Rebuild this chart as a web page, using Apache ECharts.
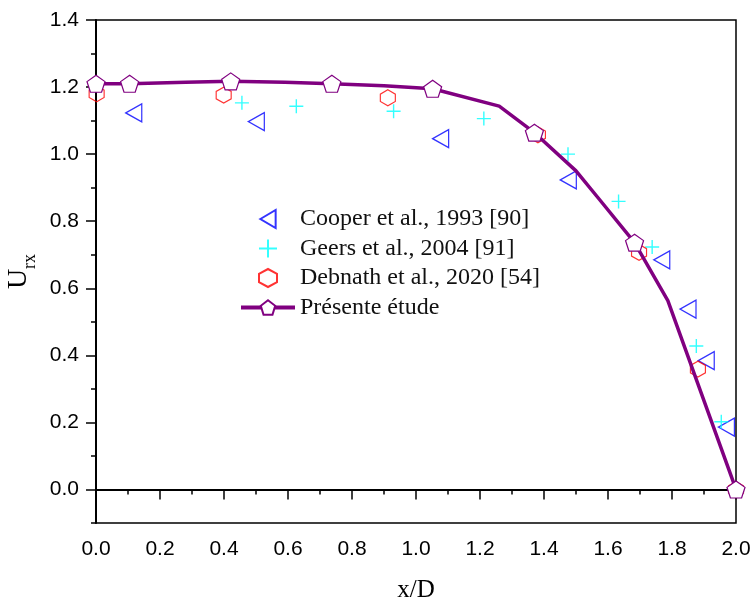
<!DOCTYPE html>
<html>
<head>
<meta charset="utf-8">
<script src="https://cdn.jsdelivr.net/npm/echarts@6/dist/echarts.min.js"></script>
<style>
  html, body { margin: 0; padding: 0; background: #fff; }
  #chart { width: 753px; height: 601px; }
</style>
</head>
<body>
<div id="chart"></div>
<script>
// tick labels
const xTicks = [0.0, 0.2, 0.4, 0.6, 0.8, 1.0, 1.2, 1.4, 1.6, 1.8, 2.0];
const yTicks = [0.0, 0.2, 0.4, 0.6, 0.8, 1.0, 1.2, 1.4];
const yMinorTicks = [-0.1, 0.1, 0.3, 0.5, 0.7, 0.9, 1.1, 1.3];

// Cooper et al., 1993
const cooperX = [0.118, 0.501, 1.077, 1.476, 1.768, 1.85, 1.907, 1.97];
const cooperY = [1.123, 1.097, 1.046, 0.923, 0.685, 0.538, 0.384, 0.186];

// Geers et al., 2004
const geersX = [0.456, 0.626, 0.930, 1.212, 1.475, 1.633, 1.738, 1.876, 1.954];
const geersY = [1.153, 1.143, 1.128, 1.106, 1.0, 0.859, 0.723, 0.428, 0.202];

// Debnath et al., 2020
const debnathX = [0.002, 0.399, 0.912, 1.381, 1.697, 1.881, 2.0];
const debnathY = [1.18, 1.176, 1.168, 1.058, 0.707, 0.359, 0.0];

// present study (line), 1 = point shown with a marker
const studyX = [0.0, 0.105, 0.28, 0.421, 0.59, 0.737, 0.9, 1.052, 1.26, 1.37, 1.50, 1.574, 1.683, 1.787, 2.0];
const studyY = [1.21, 1.21, 1.214, 1.217, 1.214, 1.21, 1.204, 1.195, 1.143, 1.064, 0.95, 0.864, 0.736, 0.563, 0.0];
const studyMarked = [1, 1, 0, 1, 0, 1, 0, 1, 0, 1, 0, 0, 1, 0, 1];

const pair = (xs, ys) => xs.map((x, i) => [x, ys[i]]);

const TRI = 'path://M0,10 L17,0 L17,20 Z';
const PLUS = 'path://M5,0 L5,10 M0,5 L10,5';
const HEX = 'path://M50,0 L100,27 L100,73 L50,100 L0,73 L0,27 Z';
const PENTA = 'path://M50,0 L100,36 L81,95 L19,95 L0,36 Z';

const serif = '"Liberation Serif", "Times New Roman", serif';
const sans = '"Liberation Sans", Arial, sans-serif';

let chart = echarts.init(document.getElementById('chart'), null, { renderer: 'canvas' });

let option = {
  animation: false,
  backgroundColor: '#fff',
  grid: {
    left: 96, right: 17, top: 20, bottom: 78,
    containLabel: false,
    outerBoundsMode: 'none',
    show: true, borderColor: '#000', borderWidth: 1.5
  },
  legend: {
    orient: 'vertical',
    left: 239,
    top: 207,
    padding: 0,
    itemWidth: 54,
    itemHeight: 18,
    itemGap: 5.5,
    lineStyle: { width: 4 },
    textStyle: { fontFamily: serif, fontSize: 24, color: '#111' },
    data: ['Cooper et al., 1993 [90]', 'Geers et al., 2004 [91]', 'Debnath et al., 2020 [54]', 'Présente étude']
  },
  xAxis: {
    type: 'value',
    min: 0, max: 2, interval: 0.2,
    name: 'x/D',
    nameLocation: 'middle',
    nameGap: 55,
    nameTextStyle: { fontFamily: serif, fontSize: 25, color: '#000' },
    axisLine: { lineStyle: { color: '#000', width: 2 } },
    axisTick: { length: 10, lineStyle: { color: '#000', width: 1.5 } },
    minorTick: { show: true, splitNumber: 2, length: 5, lineStyle: { color: '#000', width: 1.5 } },
    splitLine: { show: false },
    axisLabel: {
      margin: 16, fontFamily: sans, fontSize: 21, color: '#000',
      formatter: v => v.toFixed(1)
    }
  },
  yAxis: [
    {
      type: 'value',
      min: -0.1, max: 1.4,
      name: '{u|U}{s|rx}',
      nameLocation: 'middle',
      nameRotate: 90,
      nameGap: 53,
      nameTextStyle: {
        color: '#000',
        fontFamily: serif,
        fontSize: 28,
        rich: {
          u: { fontFamily: serif, fontSize: 28, color: '#000', padding: [0, 0, 6, 0] },
          s: { fontFamily: serif, fontSize: 18, color: '#000', verticalAlign: 'bottom' }
        }
      },
      axisLine: { show: true, lineStyle: { color: '#000', width: 2 } },
      axisTick: { show: true, length: 10, customValues: yTicks, lineStyle: { color: '#000', width: 1.5 } },
      splitLine: { show: false },
      axisLabel: {
        margin: 17, fontFamily: sans, fontSize: 21, color: '#000',
        customValues: yTicks,
        formatter: v => v.toFixed(1)
      }
    },
    {
      type: 'value',
      position: 'left',
      min: -0.1, max: 1.4,
      axisLine: { show: false },
      axisTick: { show: true, length: 5, customValues: yMinorTicks, lineStyle: { color: '#000', width: 1.5 } },
      splitLine: { show: false },
      axisLabel: { show: false }
    }
  ],
  series: [
    {
      name: 'Cooper et al., 1993 [90]',
      type: 'scatter',
      data: pair(cooperX, cooperY),
      symbol: TRI,
      symbolSize: [16, 18],
      itemStyle: { color: 'rgba(0,0,0,0)', borderColor: '#0000ff', borderWidth: 1.3 }
    },
    {
      name: 'Geers et al., 2004 [91]',
      type: 'scatter',
      data: pair(geersX, geersY),
      symbol: PLUS,
      symbolSize: [14, 14],
      itemStyle: { color: 'rgba(0,0,0,0)', borderColor: '#00ffff', borderWidth: 1.4 }
    },
    {
      name: 'Debnath et al., 2020 [54]',
      type: 'scatter',
      data: pair(debnathX, debnathY),
      symbol: HEX,
      symbolSize: [15, 16],
      itemStyle: { color: 'rgba(0,0,0,0)', borderColor: '#ff0000', borderWidth: 1.2 }
    },
    {
      name: 'Présente étude',
      type: 'line',
      data: studyX.map((x, i) => studyMarked[i] ? [x, studyY[i]] : { value: [x, studyY[i]], symbol: 'none' }),
      symbol: PENTA,
      symbolSize: [18, 17],
      showAllSymbol: true,
      lineStyle: { color: '#800080', width: 3.5 },
      itemStyle: { color: '#fff', borderColor: '#800080', borderWidth: 1.2 },
      z: 5
    }
  ]
};

option && chart.setOption(option);
</script>
</body>
</html>
